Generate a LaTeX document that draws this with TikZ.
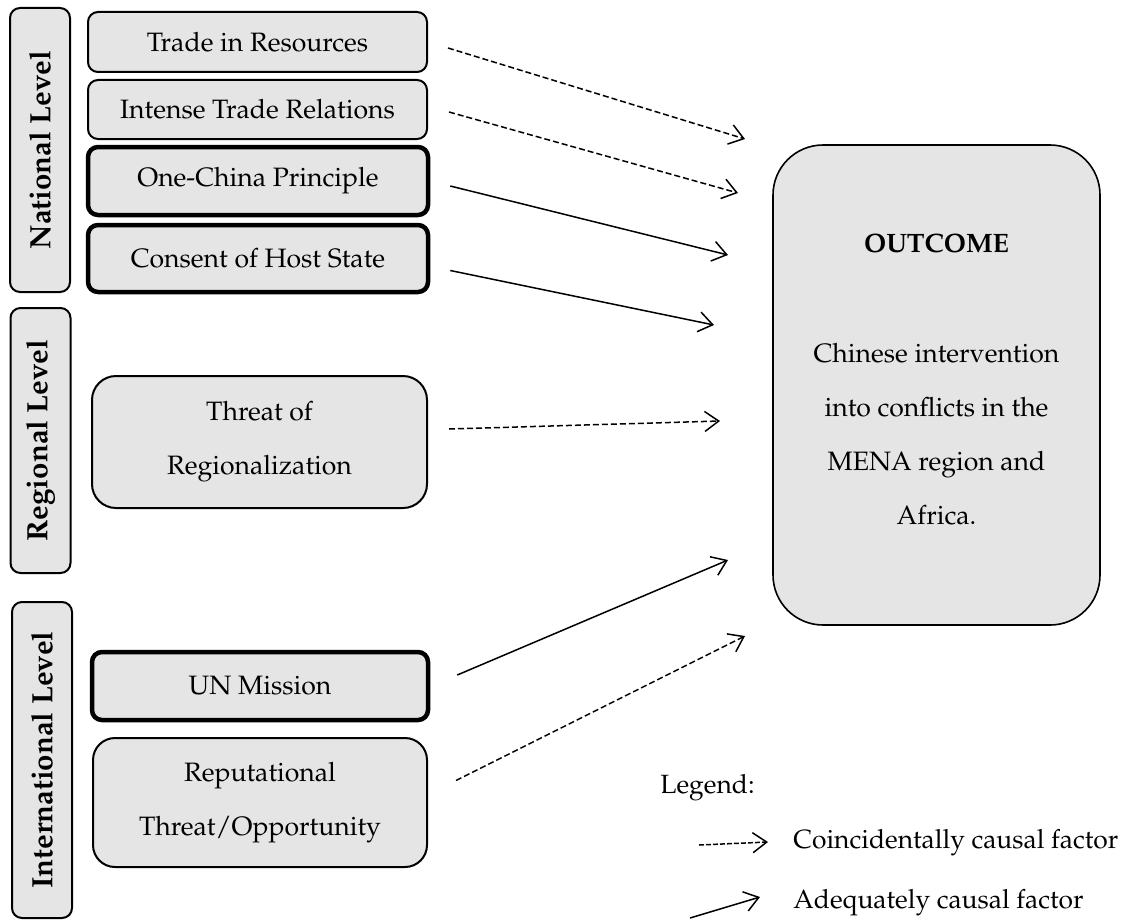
\documentclass[tikz,border=0pt]{standalone}
\usepackage[T1]{fontenc}
\usepackage{mathpazo}
\usetikzlibrary{arrows.meta,positioning,calc}

\begin{document}
\begin{tikzpicture}[
  x=0.5pt, y=-0.5pt,
  font=\fontsize{13.3}{27}\selectfont,
  factor/.style={draw, line width=1pt, rounded corners=5pt, fill=black!10, align=center, inner sep=2pt},
  keyfactor/.style={factor, line width=2.25pt},
  level/.style={draw, line width=1pt, rounded corners=5pt, fill=black!10, rotate=90, minimum height=30pt, font=\fontsize{14.7}{18}\selectfont\bfseries},
  outcome/.style={draw, line width=0.8pt, rounded corners=25pt, fill=black!10, align=center},
  legtext/.style={anchor=west, inner sep=0pt, font=\fontsize{13.2}{16}\selectfont},
  coinc/.style={-{Straight Barb[length=7pt,width=10pt]}, line width=0.75pt, dash pattern=on 3pt off 1.5pt},
  adeq/.style={-{Straight Barb[length=7pt,width=10pt]}, line width=0.75pt}
]
\useasboundingbox (0,0) rectangle (1127,920);

% LEVELS
\node[level, minimum width=142pt] (natl) at (40,150) {National Level};
\node[level, minimum width=132.5pt] (regl) at (40.5,440.5) {Regional Level};
\node[level, minimum width=158pt] (intl) at (42,760) {International Level};

% FACTORS
\node[factor, minimum width=169.5pt, minimum height=30pt] (res) at (257.5,42) {Trade in Resources};
\node[factor, minimum width=169.5pt, minimum height=29.5pt] (trade) at (257.5,109.5) {Intense Trade Relations};
\node[keyfactor, minimum width=170pt, minimum height=34pt] (china) at (258,181) {One-China Principle};
\node[keyfactor, minimum width=170pt, minimum height=33.5pt] (host) at (258,258.5) {Consent of Host State};
\node[factor, rounded corners=12pt, minimum width=167.5pt, minimum height=66pt] (regio) at (259.5,442) {Threat of\\Regionalization};
\node[keyfactor, minimum width=168pt, minimum height=34pt] (un) at (260,686) {UN Mission};
\node[factor, rounded corners=11pt, minimum width=167pt, minimum height=64.5pt] (rep) at (260,802.5) {Reputational\\Threat/Opportunity};

% OUTCOME
\node[outcome, minimum width=163.5pt, minimum height=240pt] (out) at (936.5,385)
{\textbf{OUTCOME}\\[28pt]Chinese intervention\\into conflicts in the\\MENA region and\\Africa.\\[-21pt]~};

% ARROW ENDS
\coordinate (e1) at (745,139);
\coordinate (e2) at (738,193);
\coordinate (e3) at (728,255);
\coordinate (e4) at (714,325);
\coordinate (e5) at (720,421);
\coordinate (e6) at (728,560);
\coordinate (e7) at (745,636);

\draw[coinc] ([xshift=10pt,yshift=-3pt]res.east) -- (e1);
\draw[coinc] ([xshift=10.5pt,yshift=-1.25pt]trade.east) -- (e2);
\draw[adeq] ([xshift=10pt,yshift=-2.5pt]china.east) -- (e3);
\draw[adeq] ([xshift=10pt,yshift=-6pt]host.east) -- (e4);
\draw[coinc] ([xshift=10.5pt,yshift=6.5pt]regio.east) -- (e5);
\draw[adeq] ([xshift=13.5pt,yshift=5.5pt]un.east) -- (e6);
\draw[coinc] ([xshift=14pt,yshift=11pt]rep.east) -- (e7);

% LEGEND
\node[legtext] (leg) at (660,788) {Legend:};
\node[legtext] (lcoinc) at (793,843) {Coincidentally causal factor};
\node[legtext] (ladeq) at (793,903) {Adequately causal factor};
\coordinate (lc0) at (699,845);
\coordinate (la0) at (690,918);
\draw[coinc, dash pattern=on 2.5pt off 1pt] (lc0) -- ([xshift=-12.5pt,yshift=0.5pt]lcoinc.west);
\draw[adeq] (la0) -- ([xshift=-16.5pt,yshift=3pt]ladeq.west);

\end{tikzpicture}
\end{document}
